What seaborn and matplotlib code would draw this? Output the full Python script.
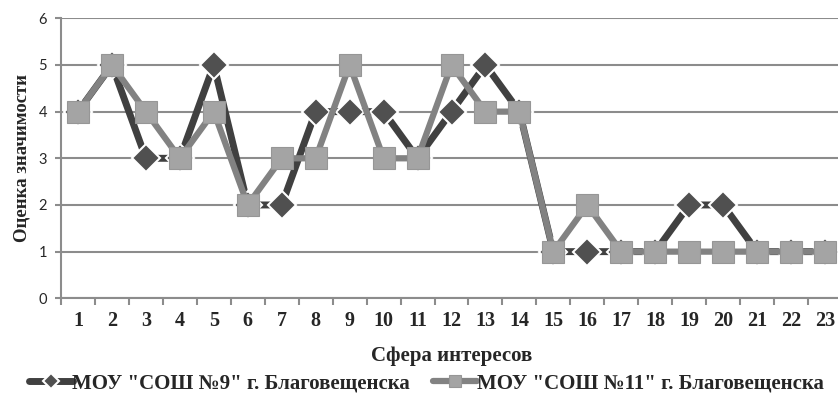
import pandas as pd
import matplotlib.pyplot as plt
import seaborn as sns
from matplotlib.ticker import MultipleLocator, FixedLocator

# Data
spheres = list(range(1, 24))
school_9 = [4, 5, 3, 3, 5, 2, 2, 4, 4, 4, 3, 4, 5, 4, 1, 1, 1, 1, 2, 2, 1, 1, 1]
school_11 = [4, 5, 4, 3, 4, 2, 3, 3, 5, 3, 3, 5, 4, 4, 1, 2, 1, 1, 1, 1, 1, 1, 1]
label_9 = 'МОУ "СОШ №9" г. Благовещенска'
label_11 = 'МОУ "СОШ №11" г. Благовещенска'

df = pd.DataFrame({"sphere": spheres, "s9": school_9, "s11": school_11})

sns.set_style("white")
serif = ["Liberation Serif", "DejaVu Serif"]

fig = plt.figure(figsize=(8.38, 4.11), dpi=100)
ax = fig.add_axes([61 / 838, 112.7 / 411, 781 / 838, 280 / 411])

sns.lineplot(data=df, x="sphere", y="s9", ax=ax, color="#404040", lw=5,
             marker="D", markersize=14, markerfacecolor="#505050",
             markeredgecolor="white", markeredgewidth=1.5, label=label_9, zorder=3)
sns.lineplot(data=df, x="sphere", y="s11", ax=ax, color="#828282", lw=4.5,
             marker="s", markersize=16.5, markerfacecolor="#a4a4a4",
             markeredgecolor="#969696", markeredgewidth=0.8, label=label_11, zorder=4)

ax.set_xlim(0.5, 23.5)
ax.set_ylim(0, 6)
ax.yaxis.set_major_locator(MultipleLocator(1))
ax.grid(axis="y", color="#8c8c8c", lw=1.5)
ax.set_axisbelow(True)

ax.set_xticks(spheres)
ax.set_xticklabels([str(s) for s in spheres], fontfamily=serif,
                   fontweight="bold", fontsize=14.5)
ax.xaxis.set_minor_locator(FixedLocator([s + 0.5 for s in range(0, 24)]))
ax.tick_params(axis="x", which="major", length=0, pad=9)
ax.tick_params(axis="x", which="minor", length=5, color="#8c8c8c", width=1.5,
               direction="out", bottom=True)
ax.tick_params(axis="y", length=4, color="#8c8c8c", width=1.5, left=True,
               labelsize=10.5, pad=6)
for t in ax.get_yticklabels():
    t.set_fontfamily("Lato")

for side in ["top", "right"]:
    ax.spines[side].set_visible(False)
for side in ["left", "bottom"]:
    ax.spines[side].set_color("#8c8c8c")
    ax.spines[side].set_linewidth(1.5)

ax.set_xlabel("Сфера интересов", fontfamily=serif, fontweight="bold",
              fontsize=15, labelpad=11)
ax.set_ylabel("Оценка значимости", fontfamily=serif, fontweight="bold",
              fontsize=13.5, labelpad=6)

handles, labels = ax.get_legend_handles_labels()
ax.get_legend().remove()
fig.legend(handles, labels, loc="center left", bbox_to_anchor=(10 / 838, 28 / 411),
           ncol=2, frameon=False, handlelength=2.1, handletextpad=0.0,
           columnspacing=1.1, markerscale=0.55,
           prop={"family": serif, "weight": "bold", "size": 15})

fig.savefig("out.png", dpi=100)
